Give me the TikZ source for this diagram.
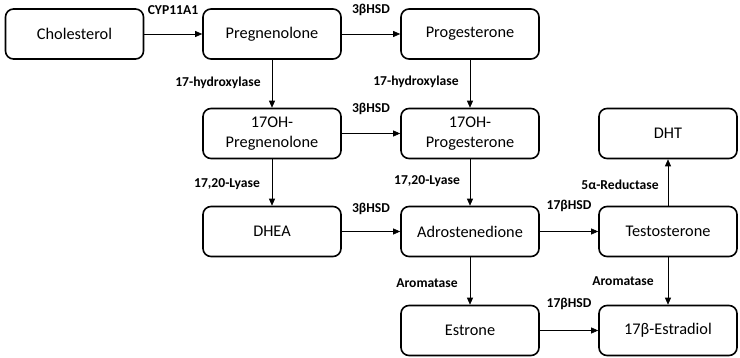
\documentclass[tikz,border=0pt]{standalone}
\usepackage{fontspec}
\setmainfont{Carlito}
\usetikzlibrary{arrows.meta}
\begin{document}
\begin{tikzpicture}[x=1pt,y=-1pt,
  box/.style={draw=black,line width=1.6pt,rounded corners=8pt,minimum width=138pt,minimum height=50pt,
    align=center,font=\fontsize{16.3}{18}\selectfont,inner sep=0pt},
  lab/.style={font=\fontsize{13.6}{14}\selectfont\bfseries,inner sep=0pt},
  conn/.style={draw=black,line width=0.7pt,-{Triangle[length=7pt,width=6pt]}}]
\useasboundingbox (0,0) rectangle (740,358);
% boxes
\node[box] (chol) at (74.5,34) {Cholesterol};
\node[box] (preg) at (272,34) {Pregnenolone};
\node[box] (prog) at (470,34) {Progesterone};
\node[box] (ohpreg) at (272,133.5) {17OH-\\[2pt]Pregnenolone};
\node[box] (ohprog) at (470,133.5) {17OH-\\[2pt]Progesterone};
\node[box] (dht) at (668,133.5) {DHT};
\node[box] (dhea) at (272,231.5) {DHEA};
\node[box] (adro) at (470,231.5) {Adrostenedione};
\node[box] (testo) at (668,231.5) {Testosterone};
\node[box] (estrone) at (470,330.5) {Estrone};
\node[box] (estradiol) at (668,330.5) {17β-Estradiol};
% connectors
\draw[conn] (chol) -- (preg);
\draw[conn] (preg) -- (prog);
\draw[conn] (preg) -- (ohpreg);
\draw[conn] (prog) -- (ohprog);
\draw[conn] (ohpreg) -- (ohprog);
\draw[conn] (ohpreg) -- (dhea);
\draw[conn] (ohprog) -- (adro);
\draw[conn] (dhea) -- (adro);
\draw[conn] (adro) -- (testo);
\draw[conn] (testo) -- (dht);
\draw[conn] (adro) -- (estrone);
\draw[conn] (testo) -- (estradiol);
\draw[conn] (estrone) -- (estradiol);
% labels
\node[lab] (l1) at (173,10) {CYP11A1};
\node[lab] (l2) at (371,10) {3βHSD};
\node[lab] (l3) at (218,83) {17-hydroxylase};
\node[lab] (l4) at (416,82) {17-hydroxylase};
\node[lab] (l5) at (371,109) {3βHSD};
\node[lab] (l6) at (227,184) {17,20-Lyase};
\node[lab] (l7) at (427,181) {17,20-Lyase};
\node[lab] (l8) at (371,209) {3βHSD};
\node[lab] (l9) at (569,206) {17βHSD};
\node[lab] (l10) at (620,185) {5α-Reductase};
\node[lab] (l11) at (427,283) {Aromatase};
\node[lab] (l12) at (623,281) {Aromatase};
\node[lab] (l13) at (569,304) {17βHSD};
\end{tikzpicture}
\end{document}
